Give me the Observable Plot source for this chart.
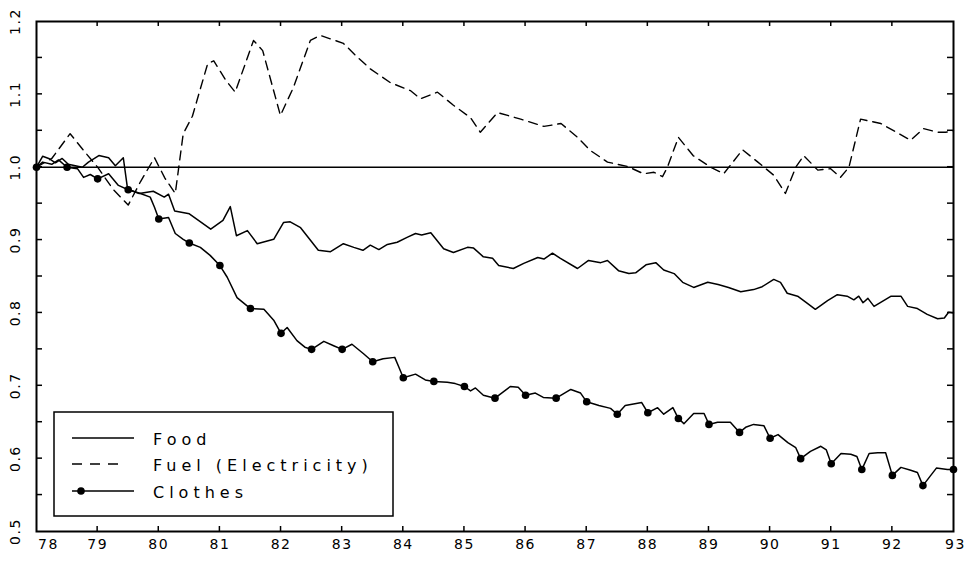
<!DOCTYPE html>
<html>
<head>
<meta charset="utf-8">
<script src="https://cdn.jsdelivr.net/npm/d3@7"></script>
<script src="https://cdn.jsdelivr.net/npm/@observablehq/plot@0.6"></script>
<style>
  html, body { margin: 0; padding: 0; background: #fff; }
  #chart { width: 967px; height: 561px; }
</style>
</head>
<body>
<div id="chart"></div>
<script>
// ---- data (year, relative price) ----
const food = [
  [78.0,1.0],[78.1,1.015],[78.2,1.012],[78.31,1.006],[78.42,1.012],[78.52,1.004],[78.75,1.0],[78.85,1.007],
  [79.02,1.016],[79.18,1.013],[79.29,1.002],[79.42,1.013],[79.49,0.97],[79.68,0.964],[79.91,0.967],[80.09,0.959],
  [80.16,0.963],[80.26,0.94],[80.5,0.936],[80.85,0.915],[81.05,0.927],[81.17,0.946],[81.27,0.906],[81.45,0.913],
  [81.61,0.895],[81.88,0.901],[82.04,0.924],[82.15,0.925],[82.32,0.917],[82.61,0.886],[82.81,0.884],[83.02,0.895],
  [83.19,0.89],[83.34,0.886],[83.46,0.893],[83.6,0.887],[83.74,0.894],[83.9,0.897],[84.07,0.904],[84.2,0.909],
  [84.3,0.907],[84.45,0.91],[84.66,0.888],[84.82,0.883],[85.05,0.89],[85.15,0.889],[85.31,0.877],[85.46,0.875],
  [85.56,0.865],[85.8,0.861],[85.97,0.868],[86.2,0.876],[86.3,0.874],[86.44,0.882],[86.57,0.875],[86.85,0.861],
  [87.03,0.872],[87.23,0.869],[87.34,0.872],[87.52,0.858],[87.69,0.854],[87.8,0.855],[87.97,0.866],[88.13,0.869],
  [88.26,0.859],[88.43,0.854],[88.57,0.842],[88.75,0.835],[88.98,0.842],[89.15,0.839],[89.32,0.835],[89.52,0.829],
  [89.73,0.832],[89.87,0.836],[90.06,0.846],[90.17,0.842],[90.28,0.827],[90.45,0.823],[90.61,0.813],[90.74,0.805],
  [90.94,0.817],[91.1,0.825],[91.26,0.823],[91.37,0.818],[91.45,0.823],[91.52,0.814],[91.6,0.82],[91.7,0.809],
  [91.98,0.823],[92.14,0.823],[92.25,0.809],[92.41,0.806],[92.57,0.798],[92.74,0.792],[92.85,0.793],[92.92,0.801],
  [93.0,0.80]
];

const fuel = [
  [78.0,1.0],[78.25,1.012],[78.55,1.046],[78.8,1.02],[79.0,1.0],[79.25,0.97],[79.5,0.948],[79.7,0.98],
  [79.93,1.013],[80.1,0.985],[80.27,0.964],[80.4,1.046],[80.55,1.07],[80.8,1.142],[80.9,1.146],[81.1,1.119],
  [81.25,1.103],[81.55,1.174],[81.7,1.16],[81.99,1.071],[82.2,1.109],[82.48,1.174],[82.64,1.181],[83.02,1.17],
  [83.25,1.151],[83.46,1.135],[83.79,1.116],[84.12,1.105],[84.28,1.094],[84.56,1.103],[84.82,1.085],[85.1,1.068],
  [85.26,1.048],[85.54,1.075],[85.92,1.066],[86.3,1.056],[86.58,1.06],[86.85,1.041],[87.06,1.023],[87.34,1.007],
  [87.67,1.001],[87.93,0.991],[88.1,0.993],[88.24,0.987],[88.32,1.0],[88.5,1.041],[88.74,1.016],[89.03,1.0],
  [89.24,0.991],[89.55,1.024],[89.8,1.007],[90.06,0.989],[90.25,0.964],[90.42,1.0],[90.55,1.016],[90.78,0.996],
  [90.99,0.998],[91.15,0.986],[91.29,1.0],[91.48,1.066],[91.81,1.06],[92.3,1.037],[92.51,1.053],[92.74,1.048],
  [92.87,1.048],[93.0,1.05]
];

const clothes = [
  [78.0,1.0],[78.1,1.007],[78.25,1.004],[78.36,1.01],[78.5,1.0],[78.67,0.998],[78.77,0.986],[78.88,0.99],
  [79.0,0.984],[79.18,0.991],[79.34,0.975],[79.5,0.969],[79.7,0.964],[79.86,0.959],[79.93,0.945],[80.0,0.929],
  [80.16,0.931],[80.27,0.909],[80.4,0.901],[80.5,0.896],[80.68,0.89],[80.84,0.879],[81.0,0.865],[81.12,0.849],
  [81.28,0.821],[81.5,0.806],[81.72,0.805],[81.88,0.79],[82.0,0.772],[82.1,0.78],[82.26,0.762],[82.39,0.753],
  [82.5,0.75],[82.7,0.761],[82.86,0.755],[83.0,0.75],[83.16,0.757],[83.35,0.744],[83.5,0.733],[83.67,0.737],
  [83.86,0.739],[83.93,0.725],[84.0,0.711],[84.2,0.716],[84.36,0.708],[84.5,0.706],[84.72,0.705],[84.85,0.703],
  [85.0,0.699],[85.1,0.693],[85.18,0.697],[85.31,0.687],[85.5,0.683],[85.75,0.699],[85.88,0.698],[86.0,0.687],
  [86.16,0.69],[86.29,0.684],[86.5,0.683],[86.74,0.695],[86.9,0.69],[87.0,0.678],[87.2,0.673],[87.39,0.669],
  [87.5,0.661],[87.63,0.673],[87.9,0.677],[88.0,0.663],[88.16,0.67],[88.26,0.661],[88.41,0.67],[88.5,0.655],
  [88.59,0.648],[88.75,0.662],[88.92,0.662],[89.0,0.647],[89.14,0.65],[89.35,0.65],[89.5,0.636],[89.6,0.643],
  [89.73,0.647],[89.9,0.645],[90.0,0.628],[90.13,0.633],[90.29,0.622],[90.42,0.615],[90.5,0.6],[90.66,0.61],
  [90.83,0.617],[90.92,0.612],[91.0,0.593],[91.16,0.607],[91.32,0.606],[91.42,0.603],[91.5,0.585],[91.62,0.607],
  [91.76,0.608],[91.89,0.608],[92.0,0.577],[92.14,0.588],[92.3,0.584],[92.41,0.581],[92.5,0.563],[92.6,0.574],
  [92.72,0.587],[92.9,0.585],[93.0,0.585]
];

const xTickLabels = [78,79,80,81,82,83,84,85,86,87,88,89,90,91,92,93];
const yTickLabels = [0.5,0.6,0.7,0.8,0.9,1.0,1.1,1.2];
const yMinorTicks = [0.55,0.6,0.65,0.7,0.75,0.8,0.85,0.9,0.95,1.0,1.05,1.1,1.15];
const seriesNames = ["Food","Fuel (Electricity)","Clothes"];

// ---- layout ----
const W = 967, H = 561;
const mL = 36, mR = 14, mT = 21, mB = 30;

// markers every half year on the clothes series
const clothesDots = clothes.filter(d => Math.abs(d[0] * 2 - Math.round(d[0] * 2)) < 1e-9);

const innerLabels = xTickLabels.filter(d => d !== 78 && d !== 93);

const svg = Plot.plot({
  width: W, height: H,
  marginLeft: mL, marginRight: mR, marginTop: mT, marginBottom: mB,
  style: { fontFamily: "DejaVu Sans, sans-serif", fontSize: "14px", background: "#fff", color: "#000" },
  x: { domain: [78, 93], axis: null },
  y: { domain: [0.5, 1.2], axis: null },
  marks: [
    Plot.ruleY([1.0], { stroke: "#000", strokeWidth: 1.5 }),
    Plot.line(food, { x: d => d[0], y: d => d[1], stroke: "#000", strokeWidth: 1.5 }),
    Plot.line(fuel, { x: d => d[0], y: d => d[1], stroke: "#000", strokeWidth: 1.4, strokeDasharray: "9,6" }),
    Plot.line(clothes, { x: d => d[0], y: d => d[1], stroke: "#000", strokeWidth: 1.5 }),
    Plot.dot(clothesDots, { x: d => d[0], y: d => d[1], r: 3.8, fill: "#000", stroke: "none" }),
    Plot.frame({ stroke: "#000", strokeWidth: 2 }),
    Plot.text(innerLabels, { x: d => d, frameAnchor: "bottom", dy: 17, text: d => String(d), fill: "#000", fontSize: 14, textAnchor: "middle" }),
    Plot.text([78], { x: d => d, frameAnchor: "bottom", dy: 17, dx: 12, text: d => String(d), fill: "#000", fontSize: 14, textAnchor: "middle" }),
    Plot.text([93], { x: d => d, frameAnchor: "bottom", dy: 17, dx: 2, text: d => String(d), fill: "#000", fontSize: 14, textAnchor: "middle" }),
    Plot.text(yTickLabels, { y: d => d, frameAnchor: "left", dx: -21, rotate: -90, text: d => d.toFixed(1), fill: "#000", fontSize: 14, textAnchor: "middle", lineAnchor: "middle" })
  ]
});

d3.select(svg).selectAll("text").attr("letter-spacing", "1.5px");

// ---- inward tick marks on all four sides, placed with the plot's own scales ----
const xs = svg.scale("x"), ys = svg.scale("y");
const tg = d3.select(svg).append("g").attr("stroke", "#000").attr("stroke-width", 1.5);
const fLeft = mL, fRight = W - mR, fTop = mT, fBottom = H - mB;
yMinorTicks.forEach(v => {
  const y = ys.apply(v);
  tg.append("line").attr("x1", fLeft).attr("x2", fLeft + 6).attr("y1", y).attr("y2", y);
  tg.append("line").attr("x1", fRight - 6).attr("x2", fRight).attr("y1", y).attr("y2", y);
});
xTickLabels.slice(1, -1).forEach(v => {
  const x = xs.apply(v);
  tg.append("line").attr("x1", x).attr("x2", x).attr("y1", fTop).attr("y2", fTop + 5);
  tg.append("line").attr("x1", x).attr("x2", x).attr("y1", fBottom - 5).attr("y2", fBottom);
});

// ---- legend box (inside the plot area, lower left) ----
const lg = d3.select(svg).append("g").attr("class", "legend").attr("text-anchor", "start");
lg.append("rect").attr("x", 54).attr("y", 412).attr("width", 339).attr("height", 104)
  .attr("fill", "#fff").attr("stroke", "#000").attr("stroke-width", 1.5);
const rows = [438, 464, 491];
const styles = [
  { dash: null, dot: false, x2: 134 },
  { dash: "10,8", dot: false, x2: 124 },
  { dash: null, dot: true, x2: 134 }
];
seriesNames.forEach((name, i) => {
  const y = rows[i];
  const ln = lg.append("line").attr("x1", 72).attr("x2", styles[i].x2).attr("y1", y).attr("y2", y)
    .attr("stroke", "#000").attr("stroke-width", 1.4);
  if (styles[i].dash) ln.attr("stroke-dasharray", styles[i].dash);
  if (styles[i].dot) lg.append("circle").attr("cx", 81).attr("cy", y).attr("r", 3.8).attr("fill", "#000");
  lg.append("text").attr("x", 153).attr("y", y + 6.5)
    .attr("text-anchor", "start")
    .attr("font-family", "DejaVu Sans, sans-serif").attr("font-size", 16)
    .attr("letter-spacing", "5px").attr("fill", "#000").text(name);
});

document.getElementById("chart").appendChild(svg);
</script>
</body>
</html>
